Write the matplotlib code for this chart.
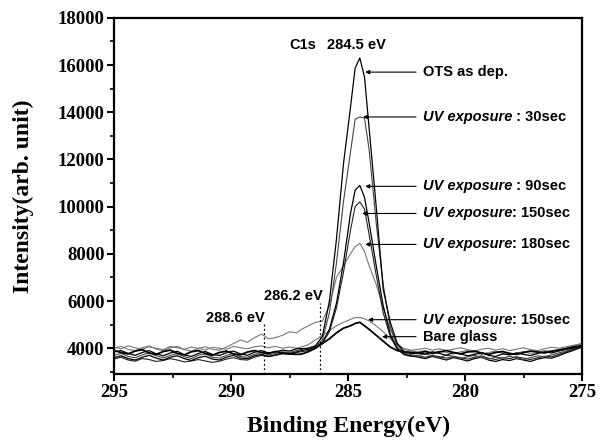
import matplotlib
matplotlib.use("Agg")
import matplotlib.pyplot as plt
from matplotlib.ticker import MultipleLocator

# binding energy grid (eV): baseline left, peak region, baseline right
energy_left = [295.0, 294.7, 294.4, 294.1, 293.8, 293.5, 293.2, 292.9, 292.6, 292.3,
               292.0, 291.7, 291.4, 291.1, 290.8, 290.5, 290.2, 289.9, 289.6, 289.3,
               289.0, 288.7, 288.4, 288.1, 287.8, 287.5, 287.2]
energy_peak = [287.0, 286.7, 286.4, 286.1, 285.8, 285.5, 285.2, 284.9, 284.7, 284.5,
               284.3, 284.1, 283.8, 283.5, 283.2, 282.9, 282.6, 282.3]
energy_right = [282.0, 281.7, 281.4, 281.1, 280.8, 280.5, 280.2, 279.9, 279.6, 279.3,
                279.0, 278.7, 278.4, 278.1, 277.8, 277.5, 277.2, 276.9, 276.6, 276.3,
                276.0, 275.7, 275.4, 275.0]
energy = energy_left + energy_peak + energy_right

ots = ([3850, 3900, 3780, 3700, 3820, 3900, 3760, 3680, 3800, 3870, 3720, 3650, 3780, 3860,
        3740, 3690, 3810, 3880, 3760, 3700, 3830, 3900, 3800, 3850, 3920, 3880, 3980]
       + [3980, 4000, 4100, 4500, 6000, 8600, 11800, 14200, 15870, 16300, 15500, 13300,
          10000, 6500, 5100, 4200, 3850, 3780]
       + [3800, 3750, 3850, 3780, 3700, 3820, 3760, 3680, 3740, 3810, 3700, 3650, 3760, 3720,
          3800, 3740, 3690, 3780, 3850, 3800, 3880, 3950, 4000, 4100])

uv30 = ([3700, 3780, 3650, 3600, 3720, 3800, 3680, 3590, 3700, 3770, 3640, 3560, 3700, 3760,
         3620, 3580, 3700, 3780, 3650, 3620, 3740, 3820, 3720, 3780, 3850, 3820, 3900]
        + [3950, 4000, 4100, 4350, 5500, 7600, 10200, 12300, 13700, 13800, 13750, 12400,
           9300, 6700, 4900, 4100, 3800, 3720]
        + [3700, 3760, 3680, 3600, 3720, 3650, 3560, 3640, 3700, 3600, 3540, 3620, 3580, 3660,
           3600, 3520, 3600, 3680, 3640, 3720, 3800, 3880, 3980, 4150])

uv90 = ([3600, 3680, 3560, 3500, 3620, 3700, 3580, 3500, 3620, 3680, 3560, 3480, 3600, 3660,
         3540, 3500, 3620, 3700, 3580, 3560, 3680, 3740, 3660, 3720, 3800, 3780, 3850]
        + [3900, 3950, 4050, 4250, 4800, 5900, 7600, 9700, 10700, 10900, 10400, 9300,
           7500, 5800, 4600, 4000, 3750, 3680]
        + [3620, 3560, 3650, 3580, 3500, 3600, 3540, 3460, 3560, 3620, 3500, 3440, 3520, 3480,
           3560, 3500, 3440, 3540, 3600, 3580, 3680, 3800, 3900, 4050])

uv150 = ([3550, 3620, 3500, 3450, 3560, 3520, 3440, 3480, 3560, 3500, 3420, 3460, 3520, 3460,
          3400, 3450, 3540, 3600, 3520, 3500, 3620, 3700, 3640, 3700, 3760, 3740, 3820]
         + [3850, 3900, 4000, 4200, 4700, 5700, 7200, 9000, 10000, 10200, 9900, 8800,
            7100, 5500, 4500, 3950, 3720, 3650]
         + [3680, 3620, 3700, 3640, 3580, 3660, 3600, 3540, 3620, 3680, 3580, 3520, 3600, 3560,
            3640, 3580, 3520, 3600, 3660, 3640, 3740, 3840, 3940, 4080])

uv180 = ([4000, 4080, 3950, 3900, 4020, 4100, 3960, 3900, 4020, 4080, 3940, 3880, 4000, 4060,
          3950, 3920, 4050, 4200, 4350, 4250, 4450, 4600, 4400, 4450, 4550, 4700, 4650]
         + [4800, 4950, 5100, 5150, 5800, 7000, 7500, 8000, 8300, 8450, 8100, 7500,
            6700, 5700, 4800, 4200, 3950, 3880]
         + [3850, 3900, 3800, 3880, 3820, 3760, 3850, 3900, 3800, 3740, 3820, 3880, 3780, 3720,
            3800, 3860, 3780, 3820, 3900, 3860, 3940, 4000, 4080, 4200])

uv150_low = ([4050, 3980, 4100, 4020, 3950, 4060, 4000, 3940, 4080, 4020, 3960, 4050, 3990, 3930,
              4040, 4000, 3960, 4080, 4020, 3980, 4060, 4100, 4020, 4080, 4000, 4050, 4000]
             + [4050, 4150, 4350, 4550, 4750, 4950, 5100, 5220, 5300, 5300, 5250, 5150,
                4950, 4700, 4400, 4150, 3980, 3920]
             + [3950, 4000, 3920, 3980, 3900, 3960, 4020, 3940, 3880, 3960, 4000, 3920, 3980, 3900,
                3960, 4020, 3940, 3900, 3980, 4040, 4000, 4060, 4120, 4200])

bare = ([3900, 3820, 3760, 3880, 3940, 3800, 3740, 3860, 3920, 3780, 3720, 3850, 3900, 3780,
         3700, 3820, 3880, 3760, 3720, 3840, 3900, 3820, 3780, 3860, 3800, 3760, 3740]
        + [3750, 3850, 4000, 4200, 4400, 4650, 4850, 4950, 5050, 5100, 4950, 4800,
           4550, 4300, 4050, 3900, 3850, 3820]
        + [3800, 3860, 3780, 3840, 3900, 3820, 3760, 3840, 3880, 3800, 3740, 3820, 3860, 3780,
           3740, 3820, 3880, 3840, 3800, 3880, 3920, 3980, 4050, 4100])

# label text, arrow target (eV, intensity), label height
labels = [("", "OTS as dep.", 284.27, 15700),
          ("UV exposure", " : 30sec", 284.36, 13800),
          ("UV exposure", " : 90sec", 284.27, 10860),
          ("UV exposure", ": 150sec", 284.4, 9710),
          ("UV exposure", ": 180sec", 284.27, 8400),
          ("UV exposure", ": 150sec", 284.15, 5210),
          ("", "Bare glass", 283.55, 4490)]
peak_marks = [288.6, 286.2]

fig = plt.figure(figsize=(6.07, 4.46), dpi=100)
ax = fig.add_axes([0.188, 0.161, 0.771, 0.799])

ax.plot(energy, uv150_low, color="#777777", lw=0.8)
ax.plot(energy, uv180, color="#777777", lw=0.8)
ax.plot(energy, uv150, color="#222222", lw=0.8)
ax.plot(energy, uv90, color="black", lw=0.9)
ax.plot(energy, uv30, color="#444444", lw=0.8)
ax.plot(energy, ots, color="black", lw=0.9)
ax.plot(energy, bare, color="black", lw=1.3)

ax.set_xlim(295, 275)
ax.set_ylim(2900, 18000)
ax.xaxis.set_major_locator(MultipleLocator(5))
ax.xaxis.set_minor_locator(MultipleLocator(2.5))
ax.yaxis.set_major_locator(MultipleLocator(2000))
ax.yaxis.set_minor_locator(MultipleLocator(1000))
ax.set_yticks(range(4000, 18001, 2000))
ax.tick_params(which="major", direction="out", length=5, width=1.5, labelsize=13.5, pad=2)
ax.tick_params(which="minor", direction="out", length=3, width=1.2)
for s in ax.spines.values():
    s.set_linewidth(1.6)
for lab in ax.get_xticklabels() + ax.get_yticklabels():
    lab.set_family("Liberation Serif")
    lab.set_fontweight("bold")

ax.set_xlabel("Binding Energy(eV)", family="Liberation Serif", fontweight="bold",
              fontsize=17, labelpad=11)
ax.set_ylabel("Intensity(arb. unit)", family="Liberation Serif", fontweight="bold",
              fontsize=17, labelpad=17)

sans = dict(family="Liberation Sans", fontweight="bold", fontsize=10.5)
text_x = 281.8
for ital, rest, tx, ty in labels:
    aprops = dict(arrowstyle="-|>", color="black", lw=0.8, mutation_scale=6,
                  shrinkA=3, shrinkB=0)
    if ital:
        first = ax.annotate(ital, xy=(tx, ty), xytext=(text_x, ty), va="center",
                            ha="left", style="italic", arrowprops=aprops, **sans)
        ax.annotate(rest, xy=(1, 0), xycoords=first, va="bottom", ha="left", **sans)
    else:
        ax.annotate(rest, xy=(tx, ty), xytext=(text_x, ty), va="center", ha="left",
                    arrowprops=aprops, **sans)

ax.text(286.95, 16850, "C1s", ha="center", va="center", **sans)
ax.text(284.65, 16850, "284.5 eV", ha="center", va="center", **sans)

ax.vlines(peak_marks[0], 2900, 5080, colors="black", linestyles=(0, (1.5, 2)), lw=0.9)
ax.vlines(peak_marks[1], 2900, 5930, colors="black", linestyles=(0, (1.5, 2)), lw=0.9)
ax.text(289.83, 5300, "288.6 eV", ha="center", va="center", **sans)
ax.text(287.33, 6230, "286.2 eV", ha="center", va="center", **sans)

fig.savefig("out.png", dpi=100)
